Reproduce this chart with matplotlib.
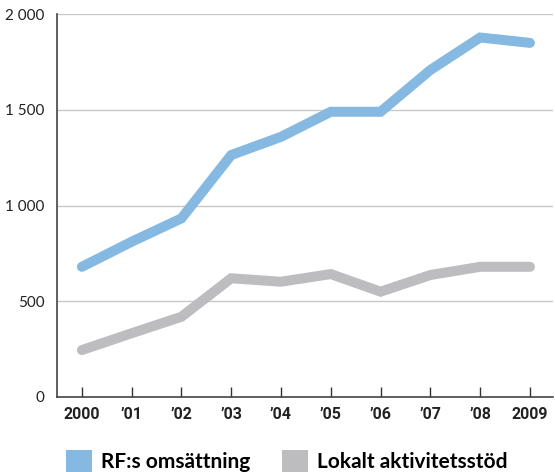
import numpy as np
import matplotlib
matplotlib.use('Agg')
import matplotlib.pyplot as plt
from matplotlib.patches import Patch

years = ['2000', '\u201901', '\u201902', '\u201903', '\u201904', '\u201905', '\u201906', '\u201907', '\u201908', '2009']
rf_omsattning = [680, 811, 933, 1264, 1359, 1490, 1490, 1708, 1878, 1850]
lokalt_stod = [245, 333, 419, 620, 602, 642, 550, 637, 680, 680]
yticks = [0, 500, 1000, 1500, 2000]
ylabels = ['0', '500', '1 000', '1 500', '2 000']
series_names = ['RF:s omsättning', 'Lokalt aktivitetsstöd']

blue = '#85b9e2'
grey = '#bdbdc0'

fig = plt.figure(figsize=(5.55, 4.72), dpi=100)
ax = fig.add_axes([0.1027, 0.159, 0.8933, 0.811])

x = np.arange(len(years))
for y in yticks[1:]:
    ax.axhline(y, color='#c8c8c8', lw=1.0, zorder=0)
ax.plot(x, rf_omsattning, color=blue, lw=7.2, solid_capstyle='round', solid_joinstyle='miter', zorder=3)
ax.plot(x, lokalt_stod, color=grey, lw=7.2, solid_capstyle='round', solid_joinstyle='miter', zorder=2)

ax.set_xlim(-0.5, 9.46)
ax.set_ylim(0, 2000)
ax.set_yticks(yticks)
ax.set_yticklabels(ylabels, fontsize=11, family=['Lato', 'DejaVu Sans'])
ax.tick_params(axis='y', length=0, pad=9, colors='#222222')
ax.set_xticks(x)
ax.set_xticklabels(years, fontsize=11.5, fontweight='bold', family=['Roboto', 'DejaVu Sans'])
ax.tick_params(axis='x', direction='in', length=7, width=1, color='#333333', pad=7, labelcolor='#222222')

for s in ['top', 'right']:
    ax.spines[s].set_visible(False)
for s in ['left', 'bottom']:
    ax.spines[s].set_color('#444444')
    ax.spines[s].set_linewidth(1.2)

handles = [Patch(facecolor=blue, edgecolor='none'), Patch(facecolor=grey, edgecolor='none')]
fig.legend(handles, series_names, loc='lower left', bbox_to_anchor=(0.085, -0.04), ncol=2,
           frameon=False, handlelength=1.25, handleheight=1.25, handletextpad=0.45, columnspacing=1.5,
           prop={'family': ['Lato', 'DejaVu Sans'], 'weight': 'bold', 'size': 15})

fig.savefig('out.png', dpi=100)
